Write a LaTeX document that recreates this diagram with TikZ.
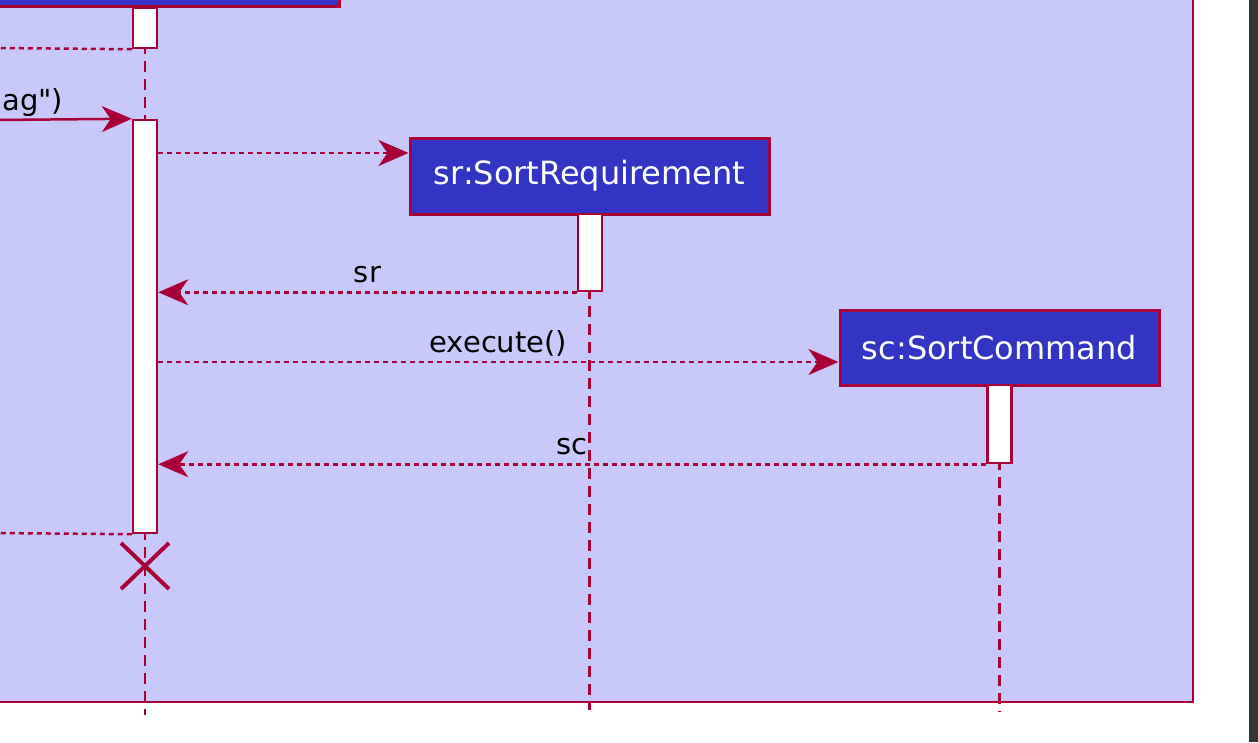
\documentclass[tikz,border=0pt]{standalone}
\usepackage{fontspec}
\setmainfont{DejaVu Sans}[Ligatures=TeXOff]
\usetikzlibrary{arrows.meta}
\definecolor{umlred}{HTML}{A80036}
\definecolor{umlblue}{HTML}{3434C4}
\definecolor{boxbg}{HTML}{C9C9F9}
\definecolor{edgegray}{HTML}{363636}
\tikzset{
  participant/.style={draw=umlred, line width=3pt, fill=umlblue, text=white,
    font=\fontsize{32}{38}\selectfont, inner sep=0pt},
  actbar/.style={draw=umlred, line width=2.5pt, fill=white, minimum width=24pt, inner sep=0pt},
  lifeline/.style={umlred, line width=2.5pt, dash pattern=on 11pt off 7pt},
  msg/.style={umlred, line width=2.5pt, -{Stealth[length=30pt,width=26pt,inset=9pt]}},
  reply/.style={msg, dash pattern=on 5pt off 4pt},
  msglabel/.style={text=black, font=\fontsize{29}{34}\selectfont, anchor=base, yshift=10pt, inner sep=0pt},
}
\begin{document}
\begin{tikzpicture}[x=1pt, y=-1pt]
  \useasboundingbox (0,0) rectangle (1258,742);
  \clip (0,0) rectangle (1258,742);
  \fill[white] (0,0) rectangle (1258,742);
  \fill[edgegray] (1249,0) rectangle (1258,742);
  % box round the participants
  \fill[boxbg] (-5,-5) rectangle (1193,702);
  \draw[umlred, line width=2.5pt] (-5,702) -- (1193,702) -- (1193,-5);
  % lifelines
  \coordinate (l1top) at (145,7);
  \coordinate (l1end) at (145,715);
  \draw[lifeline] (l1top) -- (l1end);
  \node[participant, minimum width=359pt, minimum height=76pt] (sr) at (589.5,176) {sr:SortRequirement};
  \node[participant, minimum width=319pt, minimum height=75pt] (sc) at (999.5,347.5) {sc:SortCommand};
  \coordinate (srend) at (589.5,710);
  \coordinate (scend) at (999.5,712);
  \draw[lifeline] (sr.south) -- (srend);
  \draw[lifeline] (sc.south) -- (scend);
  \fill[umlblue, draw=umlred, line width=3pt] (-10,-30) rectangle (339,6);
  % activations
  \node[actbar, minimum height=40pt] (bar1a) at (145,28) {};
  \node[actbar, minimum height=413pt] (bar1b) at (145,326.5) {};
  \node[actbar, minimum height=77pt] (srbar) at (590,252.5) {};
  \node[actbar, minimum height=78pt] (scbar) at (999.5,424) {};
  % messages
  \coordinate (in1) at (-5,48);
  \coordinate (in2) at (-5,120);
  \coordinate (in3) at (-5,533);
  \draw[reply, -] (bar1a.south west) -- (in1);
  \draw[msg] (in2) -- (bar1b.north west) node[msglabel, pos=0, anchor=base west, xshift=6pt] {ag")};
  \draw[reply] (bar1b.east |- 0,153) -- (sr.west |- 0,153);
  \draw[reply] (srbar.south west) -- (bar1b.east |- srbar.south) node[msglabel, midway] {sr};
  \draw[reply] (bar1b.east |- 0,362) -- (sc.west |- 0,362) node[msglabel, midway] {execute()};
  \draw[reply] (scbar.south west) -- (bar1b.east |- scbar.south) node[msglabel, midway] {sc};
  \draw[reply, -] (bar1b.south west) -- (in3);
  % destruction
  \coordinate (kill) at (145,566);
  \draw[umlred, line width=4pt] ([shift={(-24,-23)}]kill) -- ([shift={(24,23)}]kill)
    ([shift={(-24,23)}]kill) -- ([shift={(24,-23)}]kill);
\end{tikzpicture}
\end{document}
